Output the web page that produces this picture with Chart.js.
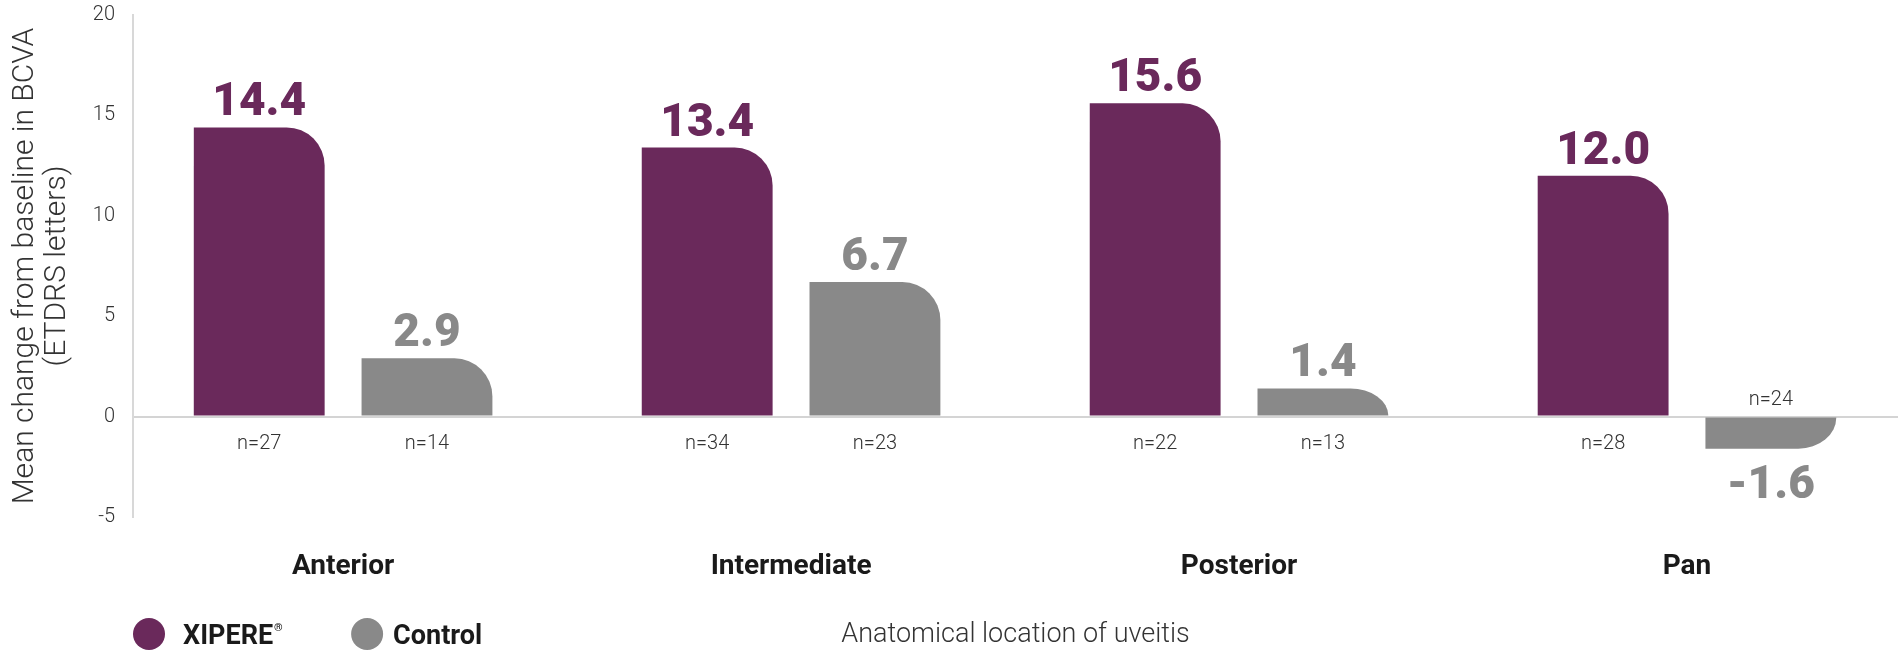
<!DOCTYPE html>
<html>
<head>
<meta charset="utf-8">
<script src="https://cdn.jsdelivr.net/npm/chart.js@4.4.1/dist/chart.umd.min.js"></script>
<style>
  html, body { margin: 0; padding: 0; background: #fff; }
  #wrap { width: 1898px; height: 651px; position: relative; }
</style>
</head>
<body>
<div id="wrap"><canvas id="chart"></canvas></div>
<script>
const categories = ['Anterior', 'Intermediate', 'Posterior', 'Pan'];
const xipereValues = [14.4, 13.4, 15.6, 12.0];
const controlValues = [2.9, 6.7, 1.4, -1.6];
const xipereN = [27, 34, 22, 28];
const controlN = [14, 23, 13, 24];
const seriesNames = ['XIPERE', 'Control'];
const yTicks = [-5, 0, 5, 10, 15, 20];
const yTitle = ['Mean change from baseline in BCVA', '(ETDRS letters)'];
const xTitle = 'Anatomical location of uveitis';

const PURPLE = '#6a295b';
const GRAY = '#898989';

// bars keep a flat base; outer corner is rounded, like the source (radius not halved on short bars)
Chart.BarElement.prototype.draw = function (ctx) {
  const {x, y, base, width} = this.getProps(['x', 'y', 'base', 'width']);
  const left = x - width / 2, right = x + width / 2;
  const top = Math.min(y, base), bottom = Math.max(y, base);
  const rx = Math.min(this.options.borderRadius || 0, width);
  const ry = Math.min(rx, bottom - top);
  ctx.save();
  ctx.fillStyle = this.options.backgroundColor;
  ctx.beginPath();
  if (y <= base) {
    ctx.moveTo(left, bottom);
    ctx.lineTo(left, top);
    ctx.lineTo(right - rx, top);
    ctx.ellipse(right - rx, top + ry, rx, ry, 0, -Math.PI / 2, 0);
    ctx.lineTo(right, bottom);
  } else {
    ctx.moveTo(left, top);
    ctx.lineTo(right, top);
    ctx.lineTo(right, bottom - ry);
    ctx.ellipse(right - rx, bottom - ry, rx, ry, 0, 0, Math.PI / 2);
    ctx.lineTo(left, bottom);
  }
  ctx.closePath();
  ctx.fill();
  ctx.restore();
};

const barLabels = {
  id: 'barLabels',
  afterDatasetsDraw(chart) {
    const ctx = chart.ctx;
    chart.data.datasets.forEach((ds, di) => {
      chart.getDatasetMeta(di).data.forEach((bar, i) => {
        const v = ds.data[i].y;
        ctx.save();
        ctx.textAlign = 'center';
        ctx.textBaseline = 'alphabetic';
        ctx.fillStyle = ds.backgroundColor;
        ctx.font = '900 46px Roboto';
        ctx.fillText(v.toFixed(1), bar.x, v >= 0 ? bar.y - 12 : bar.y + 49);
        ctx.fillStyle = '#333';
        ctx.font = '300 20px Roboto';
        ctx.fillText('n=' + ds.nCounts[i], bar.x, v >= 0 ? bar.base + 33 : bar.base - 13);
        ctx.restore();
      });
    });
  }
};

const bottomRow = {
  id: 'bottomRow',
  afterDraw(chart) {
    const ctx = chart.ctx;
    const cy = chart.height - 17;
    const baseline = chart.height - 7;
    let x = chart.chartArea.left;
    ctx.save();
    ctx.textAlign = 'left';
    ctx.textBaseline = 'alphabetic';
    chart.data.datasets.forEach((ds, i) => {
      ctx.fillStyle = ds.backgroundColor;
      ctx.beginPath();
      ctx.arc(x + 16, cy, 16, 0, Math.PI * 2);
      ctx.fill();
      ctx.fillStyle = '#1a1a1a';
      ctx.font = '700 27px Roboto';
      const tx = x + 32 + (i === 0 ? 18 : 10);
      ctx.fillText(ds.label, tx, baseline);
      let w = ctx.measureText(ds.label).width;
      if (i === 0) {
        ctx.font = '700 11px Roboto';
        ctx.fillText('\u00AE', tx + w + 1, baseline - 13);
        w += 10;
      }
      x = tx + w + 68;
    });
    ctx.fillStyle = '#333';
    ctx.font = '300 27px Roboto';
    ctx.textAlign = 'center';
    ctx.fillText(xTitle, (chart.chartArea.left + chart.chartArea.right) / 2, baseline - 2);
    ctx.restore();
  }
};

new Chart(document.getElementById('chart'), {
  type: 'bar',
  data: {
    datasets: [
      {label: seriesNames[0], data: xipereValues.map((v, i) => ({x: i, y: v})), nCounts: xipereN, backgroundColor: PURPLE, borderRadius: 38},
      {label: seriesNames[1], data: controlValues.map((v, i) => ({x: i, y: v})), nCounts: controlN, backgroundColor: GRAY, borderRadius: 38}
    ]
  },
  options: {
    responsive: true,
    maintainAspectRatio: false,
    animation: false,
    categoryPercentage: 0.749,
    barPercentage: 0.78,
    layout: {padding: 0},
    plugins: {legend: {display: false}, tooltip: {enabled: false}},
    scales: {
      x: {
        type: 'linear',
        offset: false,
        min: -0.469,
        max: 3.471,
        afterFit: s => { s.height = 134; },
        grid: {display: false, drawTicks: false, offset: false},
        border: {display: false},
        ticks: {
          stepSize: 1, includeBounds: false, autoSkip: false, maxRotation: 0, padding: 33,
          color: '#1a1a1a', font: {family: 'Roboto', weight: '700', size: 28},
          callback: v => categories[v] ?? ''
        }
      },
      y: {
        min: -5,
        max: 20,
        afterFit: s => { s.width = 133; s.paddingTop = 15; s.paddingBottom = 0; },
        afterBuildTicks: s => { s.ticks = yTicks.map(v => ({value: v})); },
        grid: {color: c => (c.tick && c.tick.value === 0 ? '#d4d4d4' : 'transparent'), lineWidth: 2, drawTicks: false},
        border: {color: '#d8d8d8', width: 2},
        ticks: {padding: 18, color: '#333', font: {family: 'Roboto', weight: '300', size: 20}},
        title: {
          display: true, text: yTitle, color: '#333',
          font: {family: 'Roboto', weight: '300', size: 30, lineHeight: 1.045},
          padding: {top: 10, bottom: 0}
        }
      }
    }
  },
  plugins: [barLabels, bottomRow]
});
</script>
</body>
</html>
